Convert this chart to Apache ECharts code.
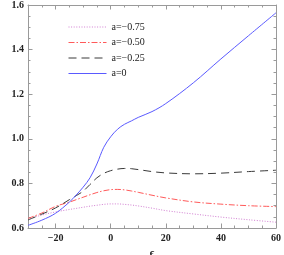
<!DOCTYPE html>
<html>
<head>
<meta charset="utf-8">
<script src="https://cdn.jsdelivr.net/npm/echarts@6/dist/echarts.min.js"></script>
<style>html,body{margin:0;padding:0;background:#fff}#c{width:284px;height:255px}</style>
</head>
<body>
<div id="c"></div>
<script>
var epsilon = [-30,-25,-20,-15,-12.5,-10,-7.5,-5,-2.5,0,2.5,5,7.5,10,15,20,30,40,50,60];
var aNeg075 = [0.640,0.658,0.672,0.683,0.688,0.693,0.698,0.702,0.706,0.708,0.708,0.706,0.703,0.699,0.689,0.678,0.663,0.649,0.637,0.626];
var aNeg050 = [0.643,0.667,0.697,0.716,0.727,0.738,0.749,0.759,0.767,0.772,0.773,0.771,0.766,0.760,0.747,0.735,0.717,0.707,0.700,0.696];
var aNeg025 = [0.636,0.662,0.690,0.727,0.745,0.765,0.795,0.825,0.845,0.857,0.864,0.867,0.866,0.862,0.853,0.847,0.843,0.846,0.853,0.859];
var aZero   = [0.612,0.635,0.666,0.716,0.748,0.783,0.825,0.887,0.962,1.009,1.043,1.065,1.080,1.096,1.122,1.158,1.251,1.358,1.462,1.565];
var seriesNames = ['a=\u22120.75','a=\u22120.50','a=\u22120.25','a=0'];
var xTicks = [-20,0,20,40,60];
var yTicks = [0.6,0.8,1.0,1.2,1.4,1.6];

function pairs(ys){ return epsilon.map(function(x,i){ return [x, ys[i]]; }); }
var font = 'Liberation Serif';
var frameColor = '#9a9a9a';
function fmtMinus(v){ return String(v).replace('-', '\u2212'); }

var chart = echarts.init(document.getElementById('c'), null, {renderer:'canvas'});
var styles = [
  {color:'#d27fd2', type:[1,1.6]},
  {color:'#ff5a5a', type:[6,2,1.5,2]},
  {color:'#3a3a3a', type:[8,5]},
  {color:'#5a5aff', type:'solid'}
];
var datas = [aNeg075, aNeg050, aNeg025, aZero];
var lblStyle = {fontFamily:font, fontSize:10, fontWeight:'bold', color:'#222'};
var solidIcon = 'path://M0,0L0.01,0L0.01,0.01ZM0,3.5L38,3.5L38,4.5L0,4.5ZM0,8L0.01,8L0.01,7.99Z';

function xAx(pos, labels, major){
  return {type:'value', min:-30, max:60, interval:5, position:pos, gridIndex:0,
    axisLine:{show:!major, onZero:false, lineStyle:{color:frameColor, width:1}},
    axisTick:major ? {show:true, inside:true, length:4.5, customValues:xTicks, lineStyle:{color:frameColor}}
                   : {show:true, inside:true, length:2.5, lineStyle:{color:frameColor}},
    axisLabel:labels ? Object.assign({margin:5, customValues:xTicks, formatter:function(v){ return fmtMinus(v); }}, lblStyle) : {show:false},
    splitLine:{show:false}
  };
}
function yAx(pos, labels, major){
  return {type:'value', min:0.6, max:1.6, interval:0.05, position:pos, gridIndex:0,
    axisLine:{show:!major, onZero:false, lineStyle:{color:frameColor, width:1}},
    axisTick:major ? {show:true, inside:true, length:4.5, customValues:yTicks, lineStyle:{color:frameColor}}
                   : {show:true, inside:true, length:2.5, lineStyle:{color:frameColor}},
    axisLabel:labels ? Object.assign({margin:4, customValues:yTicks, formatter:function(v){ return v.toFixed(1); }}, lblStyle) : {show:false},
    splitLine:{show:false}
  };
}
var xb = xAx('bottom', true, false);
xb.name = '\u03f5'; xb.nameLocation = 'middle'; xb.nameGap = 17;
xb.nameTextStyle = {fontFamily:font, fontSize:11, fontWeight:'bold', color:'#222'};
var yl = yAx('left', true, false);
yl.name = '\u0101'; yl.nameLocation = 'middle'; yl.nameGap = 20; yl.nameRotate = 90;
yl.nameTextStyle = {fontFamily:font, fontSize:12, fontWeight:'bold', color:'#222'};

chart.setOption({
  animation:false,
  backgroundColor:'#fff',
  grid:{left:28, right:8, top:5, bottom:27, containLabel:false, outerBoundsMode:'none'},
  legend:{
    orient:'vertical', left:63, top:17, itemWidth:38, itemHeight:8, itemGap:5.5,
    data:seriesNames.map(function(n,i){
      if (i === 3) {
        return {name:n, icon:solidIcon, itemStyle:{color:styles[i].color, opacity:1, borderWidth:0}};
      }
      return {name:n, itemStyle:{color:styles[i].color, opacity:0},
        lineStyle:{color:styles[i].color, type:styles[i].type, width:1, opacity:1}};
    }),
    textStyle:{fontFamily:font, fontSize:10, color:'#222'}
  },
  xAxis:[xb, xAx('top', false, false), xAx('bottom', false, true), xAx('top', false, true)],
  yAxis:[yl, yAx('right', false, false), yAx('left', false, true), yAx('right', false, true)],
  series: seriesNames.map(function(n,i){
    return {
      name:n, type:'line', smooth:0.35, symbol:'none', xAxisIndex:0, yAxisIndex:0,
      data:pairs(datas[i]),
      lineStyle:{color:styles[i].color, type:styles[i].type, width:1},
      itemStyle:{color:styles[i].color}
    };
  })
});
</script>
</body>
</html>
